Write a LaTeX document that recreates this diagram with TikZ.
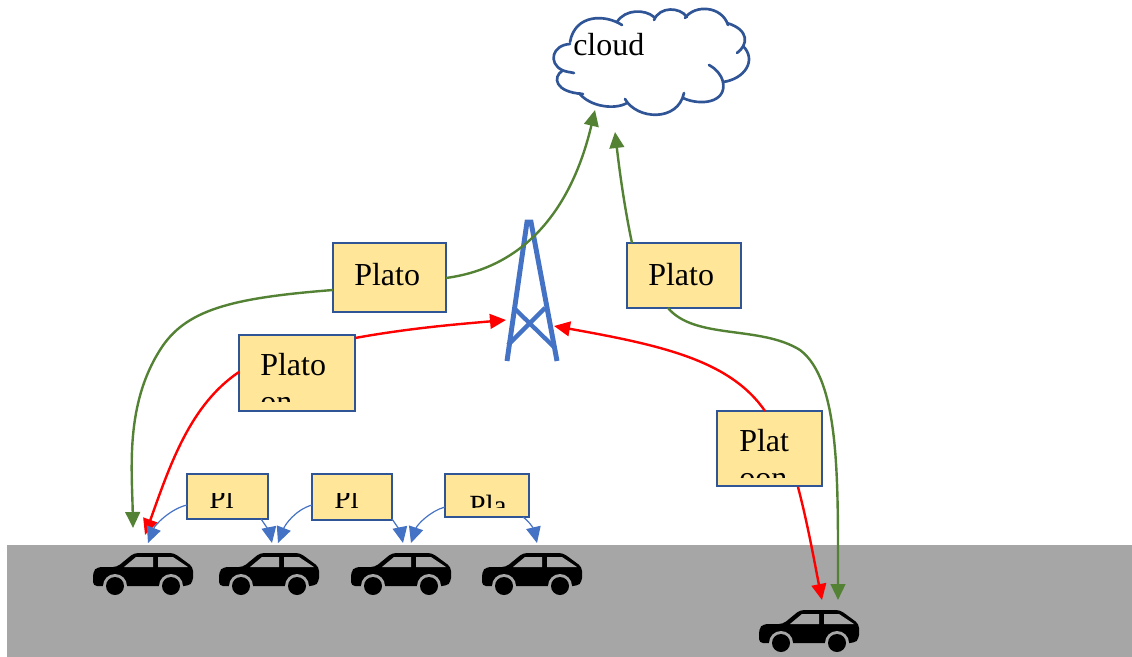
\documentclass[tikz,border=0pt]{standalone}
\usepackage{fontspec}
\setmainfont{Liberation Serif}
\usetikzlibrary{arrows.meta}
\tikzset{>=latex}
\definecolor{roadgray}{HTML}{A6A6A6}
\definecolor{boxfill}{HTML}{FFE699}
\definecolor{boxline}{HTML}{2F5597}
\definecolor{linkgreen}{HTML}{548235}
\definecolor{linkblue}{HTML}{4472C4}
\tikzset{
  platoon/.style={draw=boxline,fill=boxfill,line width=2.2pt,anchor=north west,inner sep=0pt,outer sep=0pt},
  boxtext/.style={anchor=base west,inner sep=0pt,align=left,font=\fontsize{24}{27.75}\selectfont},
  smalltext/.style={anchor=base west,inner sep=0pt,font=\fontsize{22}{24}\selectfont},
  uplink/.style={->,linkgreen,line width=1.8pt,>={Triangle[length=12pt,width=11pt]}},
  downlink/.style={->,red,line width=1.8pt,>={Triangle[length=12pt,width=11pt]}},
  sidelink/.style={->,linkblue,line width=0.9pt,>={Triangle[length=12pt,width=11pt]}},
  cloudline/.style={draw=boxline,line width=2pt,line cap=round},
  car/.pic={
    \fill[black,rounded corners=3pt] (0,33) -- (0,19) -- (4,14) -- (24,14) -- (41,0) -- (81,0) -- (100,14) -- (100,29) -- (95,33) -- cycle;
    \fill[roadgray] (31,14) -- (43,4) -- (60,4) -- (60,14) -- cycle;
    \fill[roadgray] (65,4) -- (80,4) -- (95,14) -- (65,14) -- cycle;
    \foreach \wx in {22,78} {
      \fill[roadgray] (\wx,33) circle (12);
      \fill[black] (\wx,33) circle (9);
    }
  }
}
\begin{document}
\begin{tikzpicture}[x=0.75pt,y=-0.75pt]
  \useasboundingbox (0,0) rectangle (1132,657);
  \fill[roadgray] (7,545) rectangle (1132,657);
  \foreach \cx/\cy in {93/553,219/553,351/553,482/553,759/610}
    \pic at (\cx,\cy) {car};

  % cloud
  \draw[cloudline] (570,44) .. controls (552,45) and (548,63) .. (562,70) .. controls (566,72) and (570,72) .. (574,73);
  \draw[cloudline] (562,71) .. controls (553,77) and (554,92) .. (583,94);
  \draw[cloudline] (579,93) .. controls (590,107) and (615,110) .. (627,103);
  \draw[cloudline] (625,99) .. controls (637,120) and (678,122) .. (684,93);
  \draw[cloudline] (683,98) .. controls (700,106) and (727,103) .. (723,82) .. controls (721,74) and (716,69) .. (709,65);
  \draw[cloudline] (723,82) .. controls (745,79) and (757,60) .. (743,46);
  \draw[cloudline] (737,53) .. controls (748,45) and (750,30) .. (727,23);
  \draw[cloudline] (728,25) .. controls (722,6) and (695,4) .. (685,18);
  \draw[cloudline] (687,17) .. controls (680,7) and (660,6) .. (654,20);
  \draw[cloudline] (654,17) .. controls (645,9) and (625,9) .. (617,22);
  \draw[cloudline] (622,25) .. controls (605,14) and (575,14) .. (570,42);
  \node[boxtext] (cloud) at (573,55) {cloud};

  % tower
  \draw[linkblue,line width=3.7pt] (507,361) -- (527,222) -- (531,222) -- (557,361);
  \draw[linkblue,line width=3.2pt] (515,309) -- (555,348) (545,308) -- (508,345);

  % platoon boxes
  \node[platoon,minimum width=84.75pt,minimum height=51.75pt] (box1) at (333,243) {};
  \node[platoon,minimum width=85.5pt,minimum height=48.75pt] (box2) at (627,243) {};
  \node[platoon,minimum width=87pt,minimum height=57pt] (box3) at (239,335) {};
  \node[platoon,minimum width=78.75pt,minimum height=56.25pt] (box4) at (717,411) {};
  \node[platoon,minimum width=60.75pt,minimum height=33.75pt] (box5) at (187,474) {};
  \node[platoon,minimum width=60pt,minimum height=34.5pt] (box6) at (312,474) {};
  \node[platoon,minimum width=63pt,minimum height=32.25pt] (box7) at (445,474) {};

  \node[boxtext] (text1) at (354,285) {Plato};
  \node[boxtext] (text2) at (648,285) {Plato};
  \begin{scope}
    \clip (241,337) rectangle (353,401);
    \node[boxtext] (text3) at (260,412) {Plato\\on};
  \end{scope}
  \begin{scope}
    \clip (719,413) rectangle (820,477);
    \node[boxtext] (text4) at (739,488) {Plat\\oon};
  \end{scope}
  \begin{scope}
    \clip (189,493) rectangle (266,509);
    \node[smalltext] (text5) at (209,508) {Pl};
  \end{scope}
  \begin{scope}
    \clip (314,493) rectangle (390,509);
    \node[smalltext] (text6) at (334,508) {Pl};
  \end{scope}
  \begin{scope}
    \clip (447,494) rectangle (527,507);
    \node[smalltext] (text7) at (469,515) {Pla};
  \end{scope}

  % free ends of the links
  \coordinate (cloudleft) at (595,110);
  \coordinate (cloudright) at (615,132);
  \coordinate (towerleft) at (506,320);
  \coordinate (towerright) at (554,326);
  \coordinate (carA) at (133,528);
  \coordinate (carAred) at (145,535);
  \coordinate (carAblue) at (148,543);
  \coordinate (carBleft) at (272,543);
  \coordinate (carBright) at (278,543);
  \coordinate (carCleft) at (403,543);
  \coordinate (carCright) at (411,543);
  \coordinate (carD) at (537,543);
  \coordinate (carEred) at (822,600);
  \coordinate (carEgreen) at (838,600);

  % long links
  \draw[uplink] (box1.east |- 0,278) .. controls (535,266) and (575,195) .. (cloudleft);
  \draw[uplink] (box1.west |- 0,290) .. controls (230,298) and (185,310) .. (160,350) .. controls (125,405) and (132,470) .. (carA);
  \draw[uplink] (632,243) .. controls (625,210) and (620,175) .. (cloudright);
  \draw[uplink] (668,308) .. controls (695,340) and (760,325) .. (800,350) .. controls (840,380) and (838,480) .. (carEgreen);
  \draw[downlink] (box3.east |- 0,338) .. controls (410,328) and (460,324) .. (towerleft);
  \draw[downlink] (box3.west |- 0,372) .. controls (190,405) and (170,465) .. (carAred);
  \draw[downlink] (765,411) .. controls (730,360) and (660,345) .. (towerright);
  \draw[downlink] (798,487) .. controls (808,525) and (815,565) .. (carEred);

  % short links
  \draw[sidelink] (box5.west |- 0,505) .. controls (170,509) and (155,525) .. (carAblue);
  \draw[sidelink] (261,519) .. controls (266,526) and (270,533) .. (carBleft);
  \draw[sidelink] (box6.west |- 0,505) .. controls (295,510) and (285,525) .. (carBright);
  \draw[sidelink] (392,519) .. controls (397,526) and (401,533) .. (carCleft);
  \draw[sidelink] (box7.west |- 0,507) .. controls (430,511) and (417,525) .. (carCright);
  \draw[sidelink] (523,517) .. controls (530,522) and (534,530) .. (carD);
\end{tikzpicture}
\end{document}
